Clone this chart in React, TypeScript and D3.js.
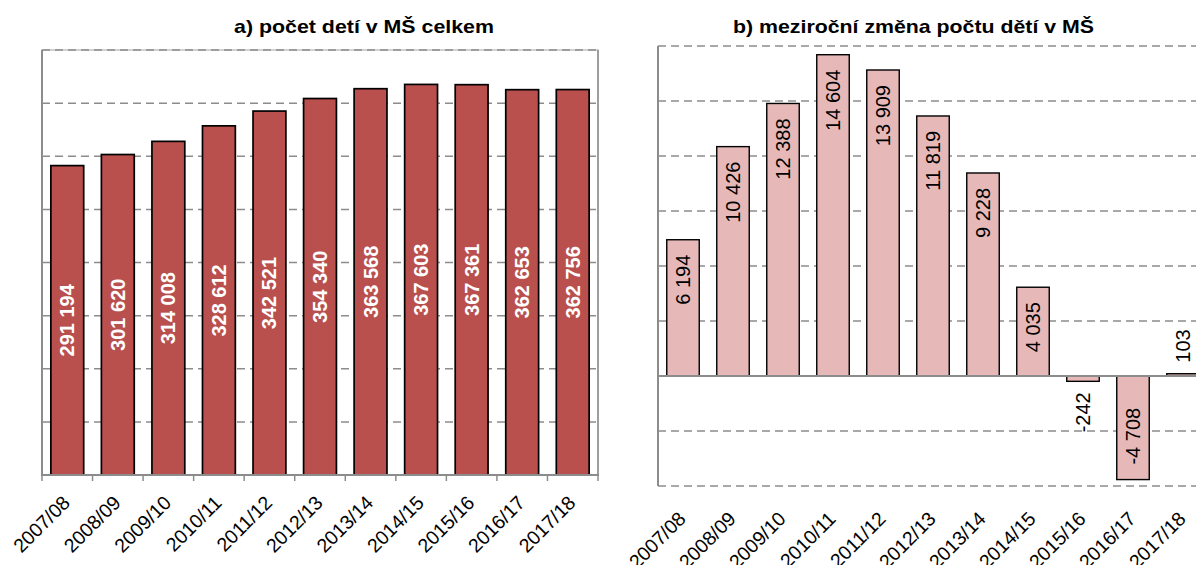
import React, { useRef, useEffect } from "react";
import * as d3 from "d3";

// school years (categories)
const years = [
  "2007/08", "2008/09", "2009/10", "2010/11", "2011/12", "2012/13",
  "2013/14", "2014/15", "2015/16", "2016/17", "2017/18",
];
// a) total number of children in kindergartens
const totalChildren = [291194, 301620, 314008, 328612, 342521, 354340, 363568, 367603, 367361, 362653, 362756];
// b) year-on-year change
const yearChange = [6194, 10426, 12388, 14604, 13909, 11819, 9228, 4035, -242, -4708, 103];
// gridline values
const totalTicks = [0, 50000, 100000, 150000, 200000, 250000, 300000, 350000, 400000];
const changeTicks = [-5000, -2500, 0, 2500, 5000, 7500, 10000, 12500, 15000];

const titleA = "a) počet detí v MŠ celkem";
const titleB = "b) meziroční změna počtu dětí v MŠ";

const W = 1196;
const H = 565;
const FONT = "'Liberation Sans', Arial, sans-serif";
const GRID = "#8c8c8c";
const AXIS = "#8c8c8c";

const fmt = d3
  .formatLocale({ decimal: ",", thousands: " ", grouping: [3], currency: ["", ""], minus: "-" })
  .format(",d");

function App() {
  const svgRef = useRef<SVGSVGElement>(null);

  useEffect(() => {
    const svg = d3.select(svgRef.current);
    svg.selectAll("*").remove();
    svg.style("font-family", FONT);

    // ---------- panel a ----------
    const xA = d3.scaleBand<string>().domain(years).range([42, 598]).paddingInner(0.35).paddingOuter(0.175);
    const yA = d3.scaleLinear().domain([0, 400000]).range([475, 50]);
    const a = svg.append("g");

    a.append("rect")
      .attr("x", 42).attr("y", 50)
      .attr("width", 556).attr("height", 425)
      .attr("fill", "none").attr("stroke", "#c4c4c4").attr("stroke-width", 1.5);

    a.selectAll(".gridA")
      .data(totalTicks.slice(1))
      .join("line")
      .attr("x1", 42).attr("x2", 598)
      .attr("y1", d => yA(d)).attr("y2", d => yA(d))
      .attr("stroke", GRID).attr("stroke-width", 1.5).attr("stroke-dasharray", "8,5");

    a.selectAll(".barA")
      .data(totalChildren)
      .join("rect")
      .attr("x", (d, i) => xA(years[i])!)
      .attr("y", d => yA(d))
      .attr("width", xA.bandwidth())
      .attr("height", d => yA(0) - yA(d))
      .attr("fill", "#b9504e")
      .attr("stroke", "#000").attr("stroke-width", 1.7);

    a.selectAll(".labA")
      .data(totalChildren)
      .join("text")
      .attr("transform", (d, i) =>
        `translate(${xA(years[i])! + xA.bandwidth() / 2},${(yA(d) + yA(0)) / 2}) rotate(-90)`)
      .attr("text-anchor", "middle")
      .attr("dy", "0.35em")
      .attr("fill", "#fff")
      .attr("font-weight", "bold")
      .attr("font-size", 20)
      .text(d => fmt(d));

    // axes
    a.append("line").attr("x1", 42).attr("x2", 42).attr("y1", 50).attr("y2", 475)
      .attr("stroke", AXIS).attr("stroke-width", 2);
    a.append("line").attr("x1", 598).attr("x2", 598).attr("y1", 50).attr("y2", 475)
      .attr("stroke", AXIS).attr("stroke-width", 1.5);
    a.append("line").attr("x1", 41).attr("x2", 599).attr("y1", 475).attr("y2", 475)
      .attr("stroke", AXIS).attr("stroke-width", 2);
    a.selectAll(".tickA")
      .data(d3.range(years.length + 1))
      .join("line")
      .attr("x1", i => 42 + i * xA.step()).attr("x2", i => 42 + i * xA.step())
      .attr("y1", 475).attr("y2", 481)
      .attr("stroke", AXIS).attr("stroke-width", 1.5);

    a.selectAll(".xlabA")
      .data(years)
      .join("text")
      .attr("transform", d => `translate(${xA(d)! + xA.bandwidth() / 2 + 4},504) rotate(-45)`)
      .attr("text-anchor", "end")
      .attr("font-size", 19.5)
      .attr("fill", "#000")
      .text(d => d);

    a.append("text")
      .attr("x", 364).attr("y", 33)
      .attr("text-anchor", "middle")
      .attr("font-weight", "bold").attr("font-size", 19)
      .attr("textLength", 260).attr("lengthAdjust", "spacingAndGlyphs")
      .text(titleA);

    // ---------- panel b ----------
    const xB = d3.scaleBand<string>().domain(years).range([658, 1208]).paddingInner(0.35).paddingOuter(0.175);
    const yB = d3.scaleLinear().domain([-5000, 15000]).range([486, 46]);
    const b = svg.append("g");

    b.selectAll(".gridB")
      .data(changeTicks.filter(d => d !== 0))
      .join("line")
      .attr("x1", 658).attr("x2", 1208)
      .attr("y1", d => yB(d)).attr("y2", d => yB(d))
      .attr("stroke", GRID).attr("stroke-width", 1.5).attr("stroke-dasharray", "8,5");

    b.selectAll(".barB")
      .data(yearChange)
      .join("rect")
      .attr("x", (d, i) => xB(years[i])!)
      .attr("y", d => Math.min(yB(d), yB(0)))
      .attr("width", xB.bandwidth())
      .attr("height", d => Math.abs(yB(d) - yB(0)))
      .attr("fill", "#e6b9b8")
      .attr("stroke", "#000").attr("stroke-width", 1.4);

    b.selectAll(".labB")
      .data(yearChange)
      .join("text")
      .attr("transform", (d, i) => {
        const cx = xB(years[i])! + xB.bandwidth() / 2;
        const inside = Math.abs(yB(d) - yB(0)) > 40;
        let y;
        if (d >= 0) y = inside ? yB(d) + 15 : yB(d) - 11;
        else y = inside ? yB(d) - 15 : yB(d) + 11;
        return `translate(${cx},${y}) rotate(-90)`;
      })
      .attr("text-anchor", d => {
        const inside = Math.abs(yB(d) - yB(0)) > 40;
        return (d >= 0) === inside ? "end" : "start";
      })
      .attr("dy", "0.35em")
      .attr("font-size", 20)
      .attr("fill", "#000")
      .text(d => fmt(d));

    b.append("line").attr("x1", 658).attr("x2", 658).attr("y1", 46).attr("y2", 486)
      .attr("stroke", AXIS).attr("stroke-width", 2);
    b.append("line").attr("x1", 657).attr("x2", 1208).attr("y1", yB(0)).attr("y2", yB(0))
      .attr("stroke", AXIS).attr("stroke-width", 2);

    b.selectAll(".xlabB")
      .data(years)
      .join("text")
      .attr("transform", d => `translate(${xB(d)! + xB.bandwidth() / 2 + 4},520) rotate(-45)`)
      .attr("text-anchor", "end")
      .attr("font-size", 19.5)
      .attr("fill", "#000")
      .text(d => d);

    b.append("text")
      .attr("x", 913.5).attr("y", 33)
      .attr("text-anchor", "middle")
      .attr("font-weight", "bold").attr("font-size", 19)
      .attr("textLength", 361).attr("lengthAdjust", "spacingAndGlyphs")
      .text(titleB);
  }, []);

  return (
    <svg
      ref={svgRef}
      width={W}
      height={H}
      style={{ position: "absolute", left: 0, top: 0, display: "block", background: "#fff" }}
    ></svg>
  );
}

export default App;
